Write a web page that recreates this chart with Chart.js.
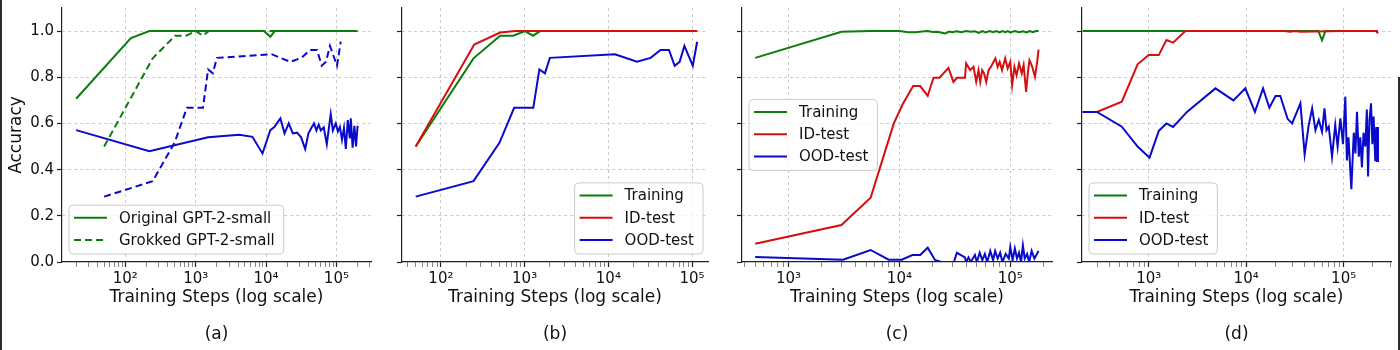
<!DOCTYPE html>
<html>
<head>
<meta charset="utf-8">
<script src="https://cdn.jsdelivr.net/npm/chart.js@4.4.1/dist/chart.umd.min.js"></script>
<style>
  html, body { margin: 0; padding: 0; background: #fff; }
  #wrap { position: relative; width: 1400px; height: 350px; overflow: hidden; font-family: "DejaVu Sans", sans-serif; }
  #wrap canvas { position: absolute; top: 0; }
  .cap { position: absolute; top: 323px; height: 20px; line-height: 20px; text-align: center; font-size: 17px; color: #111; }
  .edge { position: absolute; background: #2b2b2b; }
</style>
</head>
<body>
<div id="wrap">
  <canvas id="chartA" width="381" height="350"></canvas>
  <canvas id="chartB" width="378" height="350"></canvas>
  <canvas id="chartC" width="382" height="350"></canvas>
  <canvas id="chartD" width="381" height="350"></canvas>
  <div class="cap" id="capA">(a)</div>
  <div class="cap" id="capB">(b)</div>
  <div class="cap" id="capC">(c)</div>
  <div class="cap" id="capD">(d)</div>
  <div class="edge" style="left:0;top:0;width:2px;height:350px"></div>
  <div class="edge" style="left:1398px;top:77px;width:2px;height:273px"></div>
</div>
<script>
// y ticks shared by every panel
const yTicks = [0, 0.2, 0.4, 0.6, 0.8, 1.0];

// (a) original GPT-2-small
const aOrigTrainSteps = [20, 120, 220, 1500, 4000, 9300, 11500, 13300, 30000, 100000, 200000];
const aOrigTrain = [0.707, 0.97, 1.0, 1.0, 1.0, 1.0, 0.975, 1.0, 1.0, 1.0, 1.0];
const aOrigOodSteps = [20, 220, 1500, 4150, 6400, 8900, 11500, 13000, 16000, 18300, 21000,
  24000, 27500, 31500, 36000, 40000, 44000, 48000, 52000, 56000, 60000,
  66000, 73000, 83000, 89000, 98000, 105000, 112000, 120000, 128000, 136000,
  145000, 155000, 160000, 170000, 180000, 190000, 200000];
const aOrigOod = [0.571, 0.48, 0.54, 0.551, 0.542, 0.47, 0.571, 0.583, 0.622, 0.557, 0.60,
  0.557, 0.56, 0.54, 0.489, 0.557, 0.58, 0.60, 0.57, 0.595, 0.57,
  0.583, 0.51, 0.64, 0.57, 0.60, 0.565, 0.585, 0.53, 0.58, 0.49,
  0.615, 0.535, 0.622, 0.495, 0.59, 0.5, 0.59];

// (b) grokked GPT-2-small (also the dashed lines of (a))
const bTrainSteps = [50, 245, 510, 730, 1010, 1260, 1530, 115000];
const bTrain = [0.5, 0.882, 0.98, 0.98, 1.0, 0.98, 1.0, 1.0];
const bIdSteps = [50, 250, 510, 780, 115000];
const bId = [0.5, 0.942, 0.994, 1.0, 1.0];
const bOodSteps = [50, 245, 500, 750, 1270, 1500, 1750, 2000, 12000, 22000, 32000, 42000,
  53000, 62000, 71000, 81000, 102000, 115000];
const bOod = [0.283, 0.35, 0.516, 0.668, 0.668, 0.834, 0.817, 0.884, 0.90, 0.867, 0.884, 0.918,
  0.918, 0.85, 0.867, 0.936, 0.85, 0.954];

// (c)
const cTrainSteps = [500, 3000, 5500, 10000, 12000, 14000, 16000, 18000, 20000, 22000,
  24000, 26000, 28000, 30000, 33000, 36000, 40000, 44000, 48000, 52000,
  56000, 60000, 65000, 70000, 75000, 80000, 85000, 90000, 95000, 100000,
  110000, 120000, 130000, 140000, 150000, 160000, 170000, 180000];
const cTrain = [0.884, 0.997, 1.0, 1.0, 0.995, 0.995, 0.998, 1.0, 0.996, 0.997,
  0.993, 0.99, 0.998, 0.995, 0.999, 0.995, 1.0, 0.997, 0.999, 0.992,
  1.0, 0.994, 1.0, 0.995, 1.0, 0.994, 1.0, 0.995, 1.0, 0.994,
  1.0, 0.995, 0.999, 0.994, 1.0, 0.995, 1.0, 1.0];
const cIdSteps = [500, 3000, 5500, 7400, 8900, 10700, 13300, 15400, 18000, 20300,
  23000, 27700, 30700, 33000, 39000, 40000, 43500, 46600, 49300, 51700,
  53600, 55800, 58000, 60700, 63700, 66800, 73400, 77000, 80300, 84300,
  90000, 94700, 100000, 104000, 109000, 114000, 120000, 127000, 132000, 139000,
  145000, 149000, 158000, 167000, 175000, 180000];
const cId = [0.079, 0.16, 0.278, 0.477, 0.60, 0.683, 0.762, 0.762, 0.719, 0.798,
  0.798, 0.841, 0.78, 0.798, 0.798, 0.86, 0.831, 0.845, 0.78, 0.831,
  0.78, 0.831, 0.817, 0.78, 0.831, 0.845, 0.882, 0.845, 0.867, 0.831,
  0.882, 0.838, 0.867, 0.766, 0.845, 0.809, 0.86, 0.817, 0.853, 0.737,
  0.831, 0.874, 0.845, 0.802, 0.867, 0.92];
const cOodSteps = [500, 3100, 5500, 8000, 10500, 13100, 15400, 18000, 21000, 24000,
  31000, 33000, 39000, 40000, 42000, 44000, 48000, 50000, 53000, 56000,
  59000, 62000, 66000, 70000, 73000, 77000, 81000, 85000, 91000, 97000,
  100000, 105000, 110000, 115000, 120000, 125000, 130000, 135000, 142000, 148000,
  156000, 165000, 180000];
const cOod = [0.022, 0.01, 0.052, 0.01, 0.01, 0.03, 0.03, 0.062, 0.008, 0.0,
  0.0, 0.04, 0.02, 0.0, 0.02, 0.0, 0.03, 0.0, 0.04, 0.008,
  0.035, 0.0, 0.048, 0.008, 0.048, 0.015, 0.04, 0.0, 0.035, 0.015,
  0.065, 0.008, 0.058, 0.015, 0.04, 0.0, 0.072, 0.015, 0.035, 0.0,
  0.048, 0.015, 0.048];

// (d)
const dTrainSteps = [210, 40000, 55000, 60000, 65000, 225000];
const dTrain = [1.0, 1.0, 1.0, 0.96, 1.0, 1.0];
const dIdSteps = [210, 295, 530, 770, 1000, 1270, 1520, 1780, 2380, 25000, 28000, 32000, 36000, 100000, 215000, 225000];
const dId = [0.65, 0.65, 0.694, 0.856, 0.896, 0.896, 0.961, 0.95, 1.0, 1.0, 0.997, 1.0, 0.997, 1.0, 1.0, 0.99];
const dOodSteps = [210, 295, 530, 770, 1020, 1270, 1520, 1780, 2470, 4840,
  7400, 9800, 12300, 14900, 17300, 20000, 22400, 26600, 29600, 33400,
  36000, 39800, 43800, 47500, 51400, 55600, 60000, 63600, 66700, 70300,
  76000, 82000, 86700, 92500, 98500, 104000, 108000, 112000, 120000, 127000,
  132000, 137000, 143000, 148000, 154000, 160000, 167000, 173000, 178000, 184000,
  191000, 197000, 203000, 211000, 216000, 220000, 225000];
const dOod = [0.65, 0.65, 0.586, 0.50, 0.452, 0.568, 0.60, 0.585, 0.65, 0.752,
  0.70, 0.752, 0.65, 0.752, 0.668, 0.719, 0.719, 0.62, 0.60, 0.653,
  0.687, 0.466, 0.593, 0.665, 0.571, 0.615, 0.564, 0.665, 0.571, 0.586,
  0.456, 0.593, 0.50, 0.622, 0.51, 0.716, 0.44, 0.54, 0.315, 0.56,
  0.47, 0.65, 0.456, 0.54, 0.41, 0.56, 0.50, 0.66, 0.37, 0.615,
  0.687, 0.51, 0.63, 0.437, 0.585, 0.437, 0.585];

const GREEN = "#0b7d0b";
const RED = "#d40f0f";
const BLUE = "#0a0acd";
const GRID = "rgba(190,190,190,0.8)";
const INK = "#111";
const AXIS = "#222";
const FAMILY = '"DejaVu Sans", sans-serif';

Chart.defaults.font.family = FAMILY;
Chart.defaults.color = INK;

const SUP = { "0": "⁰", "1": "¹", "2": "²", "3": "³", "4": "⁴", "5": "⁵", "6": "⁶" };

function pts(steps, vals) {
  return steps.map((s, i) => ({ x: s, y: vals[i] }));
}

function serie(label, steps, vals, color, extra) {
  return Object.assign({
    label,
    data: pts(steps, vals),
    borderColor: color,
    backgroundColor: color,
    borderWidth: 2,
    pointRadius: 0,
    tension: 0,
    fill: false,
    inLegend: true
  }, extra || {});
}

// legend box drawn inside the plot area, like matplotlib
const boxLegend = {
  id: "boxLegend",
  afterDatasetsDraw(chart, args, opts) {
    if (!opts.loc) return;
    const { ctx, chartArea: a } = chart;
    const sets = chart.data.datasets.filter((d) => d.inLegend);
    ctx.save();
    ctx.font = "15px " + FAMILY;
    const textW = Math.max(...sets.map((d) => ctx.measureText(d.label).width));
    const rowH = 22.3;
    const w = 49 + textW + 10;
    const h = 26.5 + rowH * (sets.length - 1);
    const x = opts.loc.includes("left") ? a.left + 7 : a.right - 5 - w;
    const y = opts.loc.startsWith("lower") ? a.bottom - 8 - h : (a.top + a.bottom) / 2 - h / 2;
    const r = 4;
    ctx.beginPath();
    ctx.moveTo(x + r, y);
    ctx.arcTo(x + w, y, x + w, y + h, r);
    ctx.arcTo(x + w, y + h, x, y + h, r);
    ctx.arcTo(x, y + h, x, y, r);
    ctx.arcTo(x, y, x + w, y, r);
    ctx.closePath();
    ctx.fillStyle = "rgba(255,255,255,0.8)";
    ctx.fill();
    ctx.lineWidth = 1;
    ctx.strokeStyle = "#cccccc";
    ctx.stroke();
    sets.forEach((d, i) => {
      const cy = y + 12.5 + i * rowH;
      ctx.beginPath();
      ctx.setLineDash(d.borderDash || []);
      ctx.strokeStyle = d.borderColor;
      ctx.lineWidth = d.borderWidth;
      ctx.moveTo(x + 5, cy);
      ctx.lineTo(x + 38, cy);
      ctx.stroke();
      ctx.setLineDash([]);
      ctx.fillStyle = INK;
      ctx.textBaseline = "middle";
      ctx.textAlign = "left";
      ctx.fillText(d.label, x + 50, cy + 1);
    });
    ctx.restore();
  }
};

const panels = [
  {
    canvas: "chartA", cap: "capA", left: 62, width: 309, xMin: 12.6, xMax: 3.1e5, showY: true, loc: "lower left",
    datasets: [
      serie("Original GPT-2-small", aOrigTrainSteps, aOrigTrain, GREEN, { order: 2 }),
      serie("Grokked GPT-2-small", bTrainSteps, bTrain, GREEN, { borderDash: [7, 4], order: 3 }),
      serie("Original OOD", aOrigOodSteps, aOrigOod, BLUE, { inLegend: false, order: 1 }),
      serie("Grokked OOD", bOodSteps, bOod, BLUE, { borderDash: [7, 4], inLegend: false, order: 1 })
    ]
  },
  {
    canvas: "chartB", cap: "capB", left: 402, width: 306, xMin: 34.3, xMax: 1.55e5, showY: false, loc: "lower right",
    datasets: [
      serie("Training", bTrainSteps, bTrain, GREEN, { order: 3 }),
      serie("ID-test", bIdSteps, bId, RED, { order: 2 }),
      serie("OOD-test", bOodSteps, bOod, BLUE, { order: 1 })
    ]
  },
  {
    canvas: "chartC", cap: "capC", left: 742, width: 310, xMin: 380, xMax: 2.38e5, showY: false, loc: "center left",
    datasets: [
      serie("Training", cTrainSteps, cTrain, GREEN, { order: 3 }),
      serie("ID-test", cIdSteps, cId, RED, { order: 2 }),
      serie("OOD-test", cOodSteps, cOod, BLUE, { order: 1 })
    ]
  },
  {
    canvas: "chartD", cap: "capD", left: 1082, width: 309, xMin: 207, xMax: 3.06e5, showY: false, loc: "lower left",
    datasets: [
      serie("Training", dTrainSteps, dTrain, GREEN, { order: 3 }),
      serie("ID-test", dIdSteps, dId, RED, { order: 2 }),
      serie("OOD-test", dOodSteps, dOod, BLUE, { order: 1 })
    ]
  }
];

function logTicks(scale) {
  const out = [];
  const e0 = Math.floor(Math.log10(scale.min));
  const e1 = Math.ceil(Math.log10(scale.max));
  for (let e = e0; e <= e1; e++) {
    for (let m = 1; m < 10; m++) {
      const v = m * Math.pow(10, e);
      if (v >= scale.min && v <= scale.max) out.push({ value: v, major: m === 1 });
    }
  }
  scale.ticks = out;
}

function supLabel(v) {
  const e = String(Math.round(Math.log10(v)));
  return "10" + e.split("").map((c) => SUP[c]).join("");
}

function drawPanel(p) {
  const el = document.getElementById(p.canvas);
  const padRight = 10;
  el.width = 62 + p.width + padRight;
  el.style.left = (p.left - 62) + "px";
  const cap = document.getElementById(p.cap);
  cap.style.left = p.left + "px";
  cap.style.width = p.width + "px";

  new Chart(el, {
    type: "line",
    data: { datasets: p.datasets },
    plugins: [boxLegend],
    options: {
      responsive: false,
      animation: false,
      devicePixelRatio: 1,
      layout: { padding: { left: 0, top: 8, right: padRight, bottom: 0 } },
      plugins: {
        legend: { display: false },
        tooltip: { enabled: false },
        boxLegend: { loc: p.loc }
      },
      scales: {
        x: {
          type: "logarithmic",
          min: p.xMin,
          max: p.xMax,
          afterBuildTicks: logTicks,
          afterFit: (s) => { s.height = 88; s.paddingLeft = 0; s.paddingRight = 0; },
          ticks: {
            autoSkip: false,
            maxRotation: 0,
            minRotation: 0,
            padding: 3,
            color: INK,
            font: { size: 15 },
            callback: (v, i, ticks) => (ticks[i].major ? supLabel(v) : "")
          },
          grid: {
            color: (c) => (c.tick && c.tick.major ? GRID : "rgba(0,0,0,0)"),
            lineWidth: 1,
            tickLength: 5,
            tickColor: (c) => (c.tick && c.tick.major ? AXIS : "#666"),
            tickWidth: (c) => (c.tick && c.tick.major ? 1.2 : 0.8),
            tickBorderDash: []
          },
          border: { display: true, color: AXIS, width: 1.2, dash: [3, 3] },
          title: {
            display: true,
            text: "Training Steps (log scale)",
            color: INK,
            font: { size: 17 },
            padding: { top: 0, bottom: 42.5 }
          }
        },
        y: {
          min: 0,
          max: 1.1,
          afterBuildTicks: (s) => { s.ticks = yTicks.map((v) => ({ value: v })); },
          afterFit: (s) => { s.width = 62; s.paddingTop = 0; s.paddingBottom = 0; },
          ticks: {
            padding: 3,
            color: INK,
            font: { size: 15 },
            callback: (v) => (p.showY ? Number(v).toFixed(1) : "")
          },
          grid: {
            color: (c) => (c.tick && c.tick.value === 0 ? "rgba(0,0,0,0)" : GRID),
            lineWidth: 1,
            tickLength: 5,
            tickColor: AXIS,
            tickWidth: 1.2,
            tickBorderDash: []
          },
          border: { display: true, color: AXIS, width: 1.2, dash: [3, 3] },
          title: {
            display: p.showY,
            text: "Accuracy",
            color: INK,
            font: { size: 17 },
            padding: { top: 6.8, bottom: 0 }
          }
        }
      }
    }
  });
}

panels.forEach(drawPanel);
</script>
</body>
</html>
